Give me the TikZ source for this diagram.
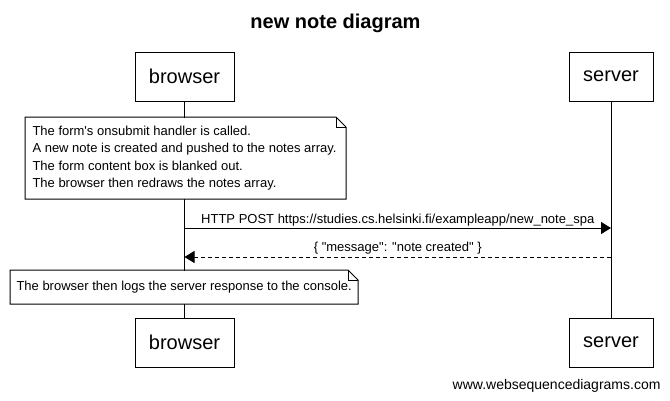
\documentclass[tikz,border=0pt]{standalone}
\usepackage{fontspec}
\setmainfont{Liberation Sans}
\usetikzlibrary{arrows.meta}
\begin{document}
\begin{tikzpicture}[x=1pt,y=-1pt,line width=1pt,
  actor/.style={draw,fill=white,minimum height=49pt,inner sep=0pt,font=\fontsize{20}{24}\selectfont},
  notebg/.style={fill=white,draw=none,anchor=north west,inner sep=0pt},
  notetext/.style={anchor=west,align=left,inner sep=0pt,font=\fontsize{13}{17.3}\selectfont},
  msglabel/.style={anchor=base,inner sep=0pt,font=\fontsize{13}{16}\selectfont},
  msg/.style={-{Triangle[length=10pt,width=12pt]}},
  reply/.style={msg,dash pattern=on 4pt off 3pt}]
\useasboundingbox[fill=white] (0,0) rectangle (670,400);
\newcommand\notefold[1]{%
  \draw (#1.north west) -- ([xshift=-10pt]#1.north east) -- ([yshift=-10pt]#1.north east) -- (#1.south east) -- (#1.south west) -- cycle;
  \draw[line width=0.6pt] ([xshift=-10pt]#1.north east) -- ([xshift=-10pt,yshift=-10pt]#1.north east) -- ([yshift=-10pt]#1.north east);}
% title
\node[anchor=base,inner sep=0pt,font=\fontsize{20}{24}\selectfont\bfseries] (title) at (335.5,28) {new note diagram};
% actors
\node[actor,minimum width=99pt] (bt) at (184.5,76.5) {browser};
\node[actor,minimum width=84pt] (st) at (611,76.5) {server};
\node[actor,minimum width=99pt] (bb) at (184.5,342.5) {browser};
\node[actor,minimum width=84pt] (sb) at (611,342.5) {server};
% lifelines
\draw (bt.south) -- (bb.north);
\draw (st.south) -- (sb.north);
% note 1
\node[notebg,minimum width=320pt,minimum height=81pt] (n1) at (25,117) {};
\notefold{n1}
\node[notetext] (t1) at ([xshift=7pt]n1.west) {The form\textquotesingle s onsubmit handler is called.\\A new note is created and pushed to the notes array.\\The form content box is blanked out.\\The browser then redraws the notes array.};
% messages
\coordinate (m1s) at (184.5,228);
\coordinate (m1e) at (611,228);
\draw[msg] (m1s) -- (m1e) node[msglabel,midway,yshift=5pt] (l1) {HTTP POST https://studies.cs.helsinki.fi/exampleapp/new\_note\_spa};
\coordinate (m2s) at (611,257);
\coordinate (m2e) at (184.5,257);
\draw[reply] (m2s) -- (m2e) node[msglabel,midway,yshift=6pt] (l2) {\{ \textquotedbl message\textquotedbl: \textquotedbl note created\textquotedbl\ \}};
% note 2
\node[notebg,minimum width=347pt,minimum height=33pt] (n2) at (10,270) {};
\notefold{n2}
\node[notetext] (t2) at ([xshift=6pt]n2.west) {The browser then logs the server response to the console.};
% footer
\node[anchor=base east,inner sep=0pt,font=\fontsize{14}{16}\selectfont] (foot) at (661,389) {www.websequencediagrams.com};
\end{tikzpicture}
\end{document}
